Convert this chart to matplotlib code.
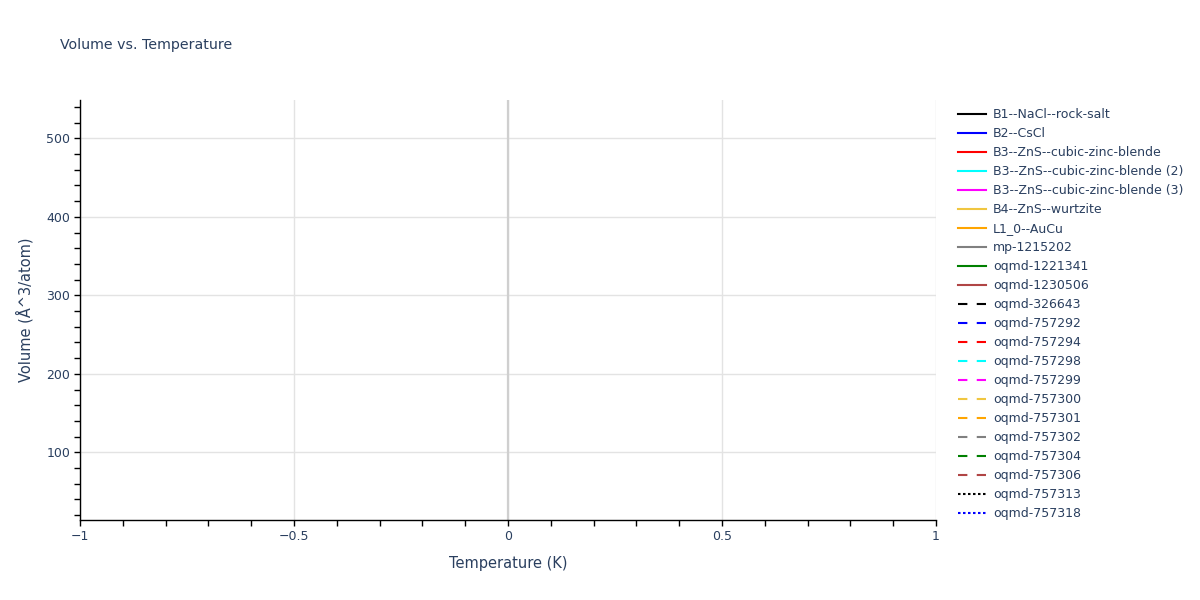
import matplotlib
matplotlib.use("Agg")
import matplotlib.pyplot as plt
from matplotlib.ticker import MultipleLocator, FuncFormatter

# series shown in the legend (no data points are visible in the plot area)
labels = [
    "B1--NaCl--rock-salt", "B2--CsCl", "B3--ZnS--cubic-zinc-blende",
    "B3--ZnS--cubic-zinc-blende (2)", "B3--ZnS--cubic-zinc-blende (3)",
    "B4--ZnS--wurtzite", "L1_0--AuCu", "mp-1215202", "oqmd-1221341",
    "oqmd-1230506", "oqmd-326643", "oqmd-757292", "oqmd-757294",
    "oqmd-757298", "oqmd-757299", "oqmd-757300", "oqmd-757301",
    "oqmd-757302", "oqmd-757304", "oqmd-757306", "oqmd-757313",
    "oqmd-757318",
]
colors = [
    "black", "blue", "red", "cyan", "magenta", "#f0c640", "orange", "gray",
    "green", "#b04545",
    "black", "blue", "red", "cyan", "magenta", "#f0c640", "orange", "gray",
    "green", "#b04545",
    "black", "blue",
]
dashes = ["solid"] * 10 + ["dash"] * 10 + ["dot"] * 2
temperatures = [[] for _ in labels]
volumes = [[] for _ in labels]

x_range = (-1, 1)
y_range = (13.8, 548.8)

TEXT = "#2a3f5f"
plt.rcParams["font.family"] = ["DejaVu Sans"]

fig = plt.figure(figsize=(12, 6), dpi=100)
ax = fig.add_axes([80 / 1200, 1 - 520 / 600, 856 / 1200, 420 / 600])

dash_map = {"solid": "-", "dash": (0, (4.5, 4.5)), "dot": (0, (1.2, 1.2))}
for lab, c, d, t, v in zip(labels, colors, dashes, temperatures, volumes):
    ax.plot(t, v, color=c, linestyle=dash_map[d], lw=1.5, label=lab)

ax.set_xlim(*x_range)
ax.set_ylim(*y_range)

ax.xaxis.set_major_locator(MultipleLocator(0.5))
ax.xaxis.set_minor_locator(MultipleLocator(0.1))
ax.yaxis.set_major_locator(MultipleLocator(100))
ax.yaxis.set_minor_locator(MultipleLocator(20))
ax.xaxis.set_major_formatter(FuncFormatter(lambda v, p: f"{v:g}".replace("-", "\u2212")))

ax.grid(True, which="major", color="#e3e3e3", lw=1)
ax.axvline(0, color="#cfcfcf", lw=1.6, zorder=1)
ax.set_axisbelow(True)

for s in ["top", "right"]:
    ax.spines[s].set_visible(False)
for s in ["left", "bottom"]:
    ax.spines[s].set_color("black")
    ax.spines[s].set_linewidth(1)

ax.tick_params(which="both", direction="out", length=4, width=1, color="black",
               labelcolor=TEXT, labelsize=9, pad=3)

ax.set_xlabel("Temperature (K)", color=TEXT, fontsize=10.5, labelpad=9.5)
ax.set_ylabel("Volume (Å^3/atom)", color=TEXT, fontsize=10.5, labelpad=9)
fig.text(60 / 1200, 1 - 45 / 600, "Volume vs. Temperature", color=TEXT,
         fontsize=10.2, va="center", ha="left")

leg = fig.legend(loc="upper left", bbox_to_anchor=(958 / 1200, 1 - 108 / 600),
                 frameon=False, fontsize=9, handlelength=2.2, handletextpad=0.6,
                 labelspacing=0.48, borderpad=0, borderaxespad=0)
for txt in leg.get_texts():
    txt.set_color(TEXT)

fig.savefig("out.png", dpi=100)
